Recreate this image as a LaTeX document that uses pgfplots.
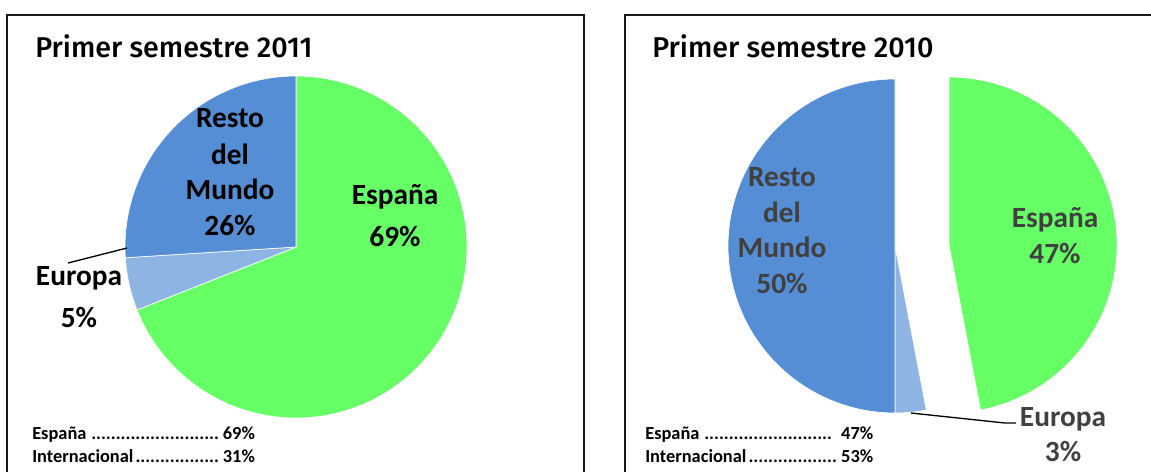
\documentclass[border=0pt]{standalone}
\usepackage{fontspec}
\setmainfont{Carlito}
\newfontfamily\titlefont{Fira Sans}[UprightFont={* Medium}]
\usepackage{pgfplots}
\pgfplotsset{compat=1.18}
\definecolor{esp}{HTML}{66FF66}
\definecolor{resto}{HTML}{558ED5}
\definecolor{euro}{HTML}{8EB4E3}
\definecolor{lab}{HTML}{404040}
% data (percent)
\def\LEsp{69}\def\LEur{5}\def\LRes{26}
\def\REsp{47}\def\REur{3}\def\RRes{50}
\pgfmathsetmacro\LaA{90-3.6*\LEsp}
\pgfmathsetmacro\LaB{\LaA-3.6*\LEur}
\pgfmathsetmacro\LaC{\LaB-3.6*\LRes}
\pgfmathsetmacro\RaA{90-3.6*\REsp}
\pgfmathsetmacro\RaB{\RaA-3.6*\REur}
\pgfmathsetmacro\RaC{\RaB-3.6*\RRes}
% cx cy r amin amax colour
\newcommand{\pieslice}[6]{%
  \addplot[fill=#6, draw=white, line width=0.5pt, domain=#4:#5, samples=150, variable=\t]
    ({#1+#3*cos(\t)}, {#2-#3*sin(\t)}) -- (axis cs:#1,#2) -- cycle;
}
\newcommand{\lbl}{\fontsize{22}{26}\selectfont\bfseries}
\newcommand{\ftr}{\fontsize{13.8}{16}\selectfont\bfseries}
\newcommand{\ttl}{\titlefont\fontsize{21.5}{25}\selectfont}
\begin{document}
\begin{tikzpicture}[x=0.75pt,y=0.75pt]
\begin{axis}[anchor=north west, at={(0,0)}, x=0.75pt, y=0.75pt,
  xmin=0, xmax=1151, ymin=0, ymax=471, y dir=reverse,
  hide axis, clip=true]
% panel borders
\draw[line width=1.5pt, black!90] (axis cs:7,495) |- (axis cs:584,15) -- (axis cs:584,495);
\draw[line width=1.5pt, black!90] (axis cs:625,495) |- (axis cs:1180,15);
% titles
\node[anchor=base west, font=\ttl, inner sep=0pt] at (axis cs:35,57) {Primer semestre 2011};
\node[anchor=base west, font=\ttl, inner sep=0pt] at (axis cs:652,57) {Primer semestre 2010};
% left pie (2011)
\pieslice{296}{247}{171}{\LaA}{90}{esp}
\pieslice{296}{247}{171}{\LaB}{\LaA}{euro}
\pieslice{296}{247}{171}{\LaC}{\LaB}{resto}
% right pie (2010), Espana exploded
\pieslice{949}{245}{168}{\RaA}{90}{esp}
\pieslice{895}{246}{167}{\RaB}{\RaA}{euro}
\pieslice{895}{246}{167}{\RaC}{\RaB}{resto}
% leader lines
\draw[line width=1pt] (axis cs:127,248) -- (axis cs:68,263);
\draw[line width=1pt] (axis cs:911,413) -- (axis cs:1005,423) -- (axis cs:1016,423);
% left labels
\node[anchor=base, font=\lbl] at (axis cs:230,127) {Resto};
\node[anchor=base, font=\lbl] at (axis cs:230,164) {del};
\node[anchor=base, font=\lbl] at (axis cs:230,199) {Mundo};
\node[anchor=base, font=\lbl] at (axis cs:230,235) {26\%};
\node[anchor=base, font=\lbl] at (axis cs:395,204) {España};
\node[anchor=base, font=\lbl] at (axis cs:395,246) {69\%};
\node[anchor=base, font=\lbl] at (axis cs:79,285) {Europa};
\node[anchor=base, font=\lbl] at (axis cs:79,327) {5\%};
% right labels
\node[anchor=base, font=\lbl, text=lab] at (axis cs:782,186) {Resto};
\node[anchor=base, font=\lbl, text=lab] at (axis cs:782,222) {del};
\node[anchor=base, font=\lbl, text=lab] at (axis cs:782,257) {Mundo};
\node[anchor=base, font=\lbl, text=lab] at (axis cs:782,293) {50\%};
\node[anchor=base, font=\lbl, text=lab] at (axis cs:1055,227) {España};
\node[anchor=base, font=\lbl, text=lab] at (axis cs:1055,263) {47\%};
\node[anchor=base, font=\lbl, text=lab] at (axis cs:1063,426) {Europa};
\node[anchor=base, font=\lbl, text=lab] at (axis cs:1063,461) {3\%};
% footers
\node[anchor=base west, font=\ftr, inner sep=0pt] at (axis cs:32,439) {\hbox to 167pt{España \leaders\hbox{.}\hfill69\%}};
\node[anchor=base west, font=\ftr, inner sep=0pt] at (axis cs:32,462) {\hbox to 167pt{Internacional\leaders\hbox{.}\hfill31\%}};
\node[anchor=base west, font=\ftr, inner sep=0pt] at (axis cs:645,439) {\hbox to 171pt{España\leaders\hbox{.}\hfill\ \ 47\%}};
\node[anchor=base west, font=\ftr, inner sep=0pt] at (axis cs:645,462) {\hbox to 171pt{Internacional\leaders\hbox{.}\hfill\ 53\%}};
\end{axis}
\pgfresetboundingbox
\useasboundingbox (0,0) rectangle (1151,-471);
\end{tikzpicture}
\end{document}
